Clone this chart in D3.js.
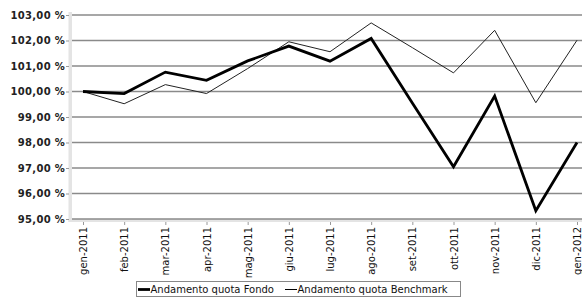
<!DOCTYPE html>
<html><head><meta charset="utf-8">
<script src="https://cdn.jsdelivr.net/npm/d3@7"></script>
<style>body{margin:0;background:#fff}svg{display:block}</style>
</head><body><svg id="c" width="582" height="299"></svg>
<script>
const categories = ["gen-2011","feb-2011","mar-2011","apr-2011","mag-2011","giu-2011","lug-2011","ago-2011","set-2011","ott-2011","nov-2011","dic-2011","gen-2012"];
const fondo = [100.00, 99.92, 100.76, 100.44, 101.20, 101.78, 101.19, 102.08, 99.55, 97.05, 99.82, 95.32, 98.00];
const benchmark = [100.00, 99.52, 100.27, 99.92, 100.90, 101.95, 101.56, 102.69, 101.72, 100.73, 102.40, 99.56, 102.01];
const yTicks = [95, 96, 97, 98, 99, 100, 101, 102, 103];
const seriesNames = ["Andamento quota Fondo", "Andamento quota Benchmark"];

const svg = d3.select("#c");
const x = d3.scalePoint().domain(categories).range([83, 577]);
const y = d3.scaleLinear().domain([95, 103]).range([219, 15]);
const fmt = v => d3.format(".2f")(v).replace(".", ",") + " %";

// wall
svg.append("rect").attr("x", 68.5).attr("y", 12).attr("width", 3.5).attr("height", 210).attr("fill", "#e4e4e4");
svg.append("rect").attr("x", 68.5).attr("y", 219).attr("width", 514).attr("height", 3).attr("fill", "#e4e4e4");

// gridlines
svg.append("g").selectAll("line").data(yTicks).join("line")
  .attr("x1", 72).attr("x2", 582).attr("y1", d => y(d)).attr("y2", d => y(d))
  .attr("stroke", "#8a8a8a").attr("stroke-width", 1.6);

// y axis
const ya = svg.append("g").attr("transform", "translate(69,0)")
  .call(d3.axisLeft(y).tickValues(yTicks).tickFormat(fmt).tickSize(3).tickPadding(1));
ya.select(".domain").remove();
ya.selectAll("line").attr("stroke", "#999");
ya.selectAll("text").attr("font-family", "DejaVu Sans").attr("font-size", 10).attr("font-weight", "bold")
  .attr("letter-spacing", 0.3).attr("fill", "#222");

// x axis
const xa = svg.append("g").attr("transform", "translate(0,222)")
  .call(d3.axisBottom(x).tickSize(3).tickPadding(2));
xa.select(".domain").remove();
xa.selectAll("line").attr("stroke", "#999");
xa.selectAll("text").attr("font-family", "DejaVu Sans").attr("font-size", 10).attr("fill", "#111")
  .attr("transform", "rotate(-90)").attr("text-anchor", "end")
  .attr("x", -5).attr("y", 0).attr("dy", "0.35em").attr("dx", null);

const line = d3.line().x((d, i) => x(categories[i])).y(d => y(d));
svg.append("path").datum(benchmark).attr("d", line).attr("fill", "none").attr("stroke", "#222").attr("stroke-width", 1);
svg.append("path").datum(fondo).attr("d", line).attr("fill", "none").attr("stroke", "#000").attr("stroke-width", 2.8).attr("stroke-linejoin", "miter");

// legend
const lg = svg.append("g");
lg.append("rect").attr("x", 136.5).attr("y", 281.5).attr("width", 324).attr("height", 15).attr("fill", "#fff").attr("stroke", "#888");
const items = [{name: seriesNames[0], w: 2.8, x0: 138}, {name: seriesNames[1], w: 1, x0: 285}];
items.forEach(it => {
  lg.append("line").attr("x1", it.x0).attr("x2", it.x0 + 12).attr("y1", 289.5).attr("y2", 289.5).attr("stroke", "#000").attr("stroke-width", it.w);
  lg.append("text").attr("x", it.x0 + 12.5).attr("y", 293).attr("font-family", "DejaVu Sans").attr("font-size", 10).attr("fill", "#111").text(it.name);
});
</script></body></html>
